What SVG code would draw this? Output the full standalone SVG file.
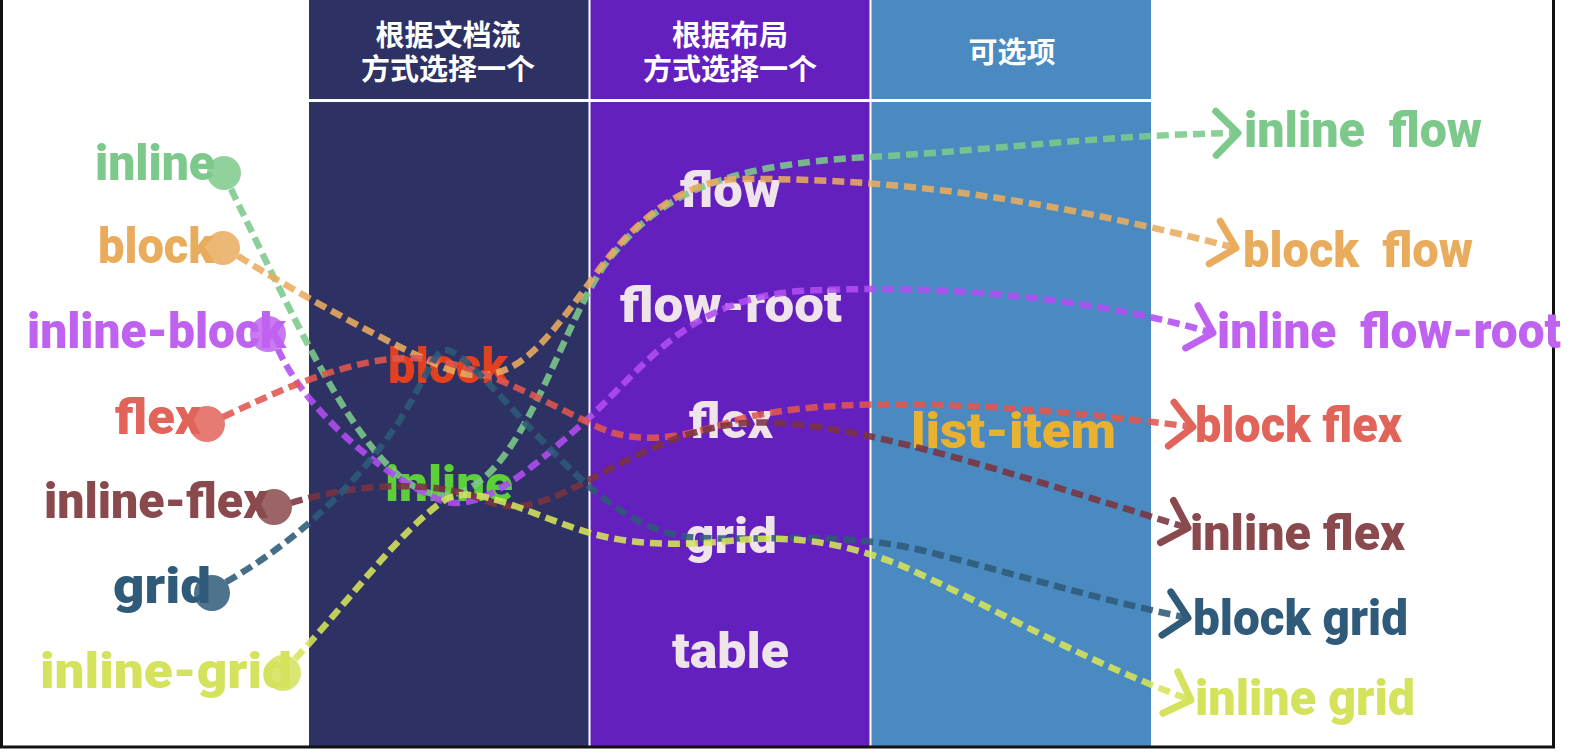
<svg xmlns="http://www.w3.org/2000/svg" width="1572" height="754" viewBox="0 0 1572 754">
<style>
  .hdr { font-family: "Noto Sans CJK SC", "Noto Sans", sans-serif; font-weight: 700; font-size: 29px; fill: #ffffff; text-anchor: middle; }
  .lbl { font-family: Roboto, "Liberation Sans", sans-serif; font-weight: 900; font-size: 50px; }
  .mid { fill: #EEE4EA; }
  .con { fill: none; stroke-width: 6.5; stroke-dasharray: 12 6; stroke-opacity: 0.88; }
  .dot { fill-opacity: 0.85; }
  .c-green { fill: #7CC98B; } .s-green { stroke: #7CC98B; }
  .c-orange { fill: #E9AC5D; } .s-orange { stroke: #E9AC5D; }
  .c-purple { fill: #C062F0; } .s-purple { stroke: #B24CF2; }
  .c-red { fill: #E0645A; } .s-red { stroke: #E0564F; }
  .c-brown { fill: #8A4A4D; } .s-brown { stroke: #7A3340; }
  .c-teal { fill: #2F5A79; } .s-teal { stroke: #2E5A79; }
  .c-yellow { fill: #D4E25C; } .s-yellow { stroke: #D6E45A; }
  .arr { fill: none; stroke-width: 7; stroke-linecap: round; stroke-linejoin: round; }
</style>
<defs>
  <marker id="a-green" markerUnits="userSpaceOnUse" viewBox="-30 -30 36 60" refX="0" refY="0" markerWidth="36" markerHeight="60" orient="auto" overflow="visible"><path class="arr" stroke="#7CC98B" d="M-22,-22 L0,0 L-22,22"/></marker>
  <marker id="a-orange" markerUnits="userSpaceOnUse" viewBox="-30 -30 36 60" refX="0" refY="0" markerWidth="36" markerHeight="60" orient="auto" overflow="visible"><path class="arr" stroke="#E9AC5D" d="M-22,-22 L0,0 L-22,22"/></marker>
  <marker id="a-purple" markerUnits="userSpaceOnUse" viewBox="-30 -30 36 60" refX="0" refY="0" markerWidth="36" markerHeight="60" orient="auto" overflow="visible"><path class="arr" stroke="#C062F0" d="M-22,-22 L0,0 L-22,22"/></marker>
  <marker id="a-red" markerUnits="userSpaceOnUse" viewBox="-30 -30 36 60" refX="0" refY="0" markerWidth="36" markerHeight="60" orient="auto" overflow="visible"><path class="arr" stroke="#E0645A" d="M-22,-22 L0,0 L-22,22"/></marker>
  <marker id="a-brown" markerUnits="userSpaceOnUse" viewBox="-30 -30 36 60" refX="0" refY="0" markerWidth="36" markerHeight="60" orient="auto" overflow="visible"><path class="arr" stroke="#8A4A4D" d="M-22,-22 L0,0 L-22,22"/></marker>
  <marker id="a-teal" markerUnits="userSpaceOnUse" viewBox="-30 -30 36 60" refX="0" refY="0" markerWidth="36" markerHeight="60" orient="auto" overflow="visible"><path class="arr" stroke="#2F5A79" d="M-22,-22 L0,0 L-22,22"/></marker>
  <marker id="a-yellow" markerUnits="userSpaceOnUse" viewBox="-30 -30 36 60" refX="0" refY="0" markerWidth="36" markerHeight="60" orient="auto" overflow="visible"><path class="arr" stroke="#D4E25C" d="M-22,-22 L0,0 L-22,22"/></marker>
</defs>

<rect x="0" y="0" width="1572" height="754" fill="#ffffff"/>

<g id="columns">
  <rect x="309" y="0" width="280" height="747" fill="#2E3163"/>
  <rect x="590" y="0" width="280" height="747" fill="#6420BE"/>
  <rect x="871" y="0" width="280" height="747" fill="#4A8AC1"/>
  <line x1="589.5" y1="0" x2="589.5" y2="747" stroke="#ffffff" stroke-width="2"/>
  <line x1="870.5" y1="0" x2="870.5" y2="747" stroke="#ffffff" stroke-width="2"/>
  <line x1="309" y1="100.5" x2="1151" y2="100.5" stroke="#ffffff" stroke-width="3"/>
</g>

<g id="frame" fill="none" stroke="#111111" stroke-width="3">
  <polyline points="1.5,0 1.5,747 1553.5,747 1553.5,0"/>
</g>

<g id="headers">
  <g id="hdr-flow"><text class="hdr"><tspan x="448" y="46">根据文档流</tspan><tspan x="448" y="80">方式选择一个</tspan></text></g>
  <g id="hdr-layout"><text class="hdr"><tspan x="730" y="46">根据布局</tspan><tspan x="730" y="80">方式选择一个</tspan></text></g>
  <g id="hdr-opt"><text class="hdr" x="1012" y="63">可选项</text></g>
</g>

<g id="left-labels">
  <g id="src-inline"><text class="lbl c-green" x="95" y="180" textLength="120" lengthAdjust="spacingAndGlyphs">inline</text></g>
  <g id="src-block"><text class="lbl c-orange" x="98" y="263" textLength="116" lengthAdjust="spacingAndGlyphs">block</text></g>
  <g id="src-inline-block"><text class="lbl c-purple" x="27" y="348" textLength="259" lengthAdjust="spacingAndGlyphs">inline-block</text></g>
  <g id="src-flex"><text class="lbl c-red" x="115" y="434" textLength="86" lengthAdjust="spacingAndGlyphs">flex</text></g>
  <g id="src-inline-flex"><text class="lbl c-brown" x="44" y="518" textLength="224" lengthAdjust="spacingAndGlyphs">inline-flex</text></g>
  <g id="src-grid"><text class="lbl c-teal" x="113" y="603" textLength="98" lengthAdjust="spacingAndGlyphs">grid</text></g>
  <g id="src-inline-grid"><text class="lbl c-yellow" x="40" y="688" textLength="252" lengthAdjust="spacingAndGlyphs">inline-grid</text></g>
</g>

<g id="outer-nodes">
  <g id="outer-block"><text class="lbl" fill="#E2401F" x="388" y="383" textLength="120" lengthAdjust="spacingAndGlyphs">block</text></g>
  <g id="outer-inline"><text class="lbl" fill="#5DCF38" x="385" y="501" textLength="128" lengthAdjust="spacingAndGlyphs">inline</text></g>
</g>

<g id="inner-nodes">
  <g id="inner-flow"><text class="lbl mid" x="680" y="207" textLength="101" lengthAdjust="spacingAndGlyphs">flow</text></g>
  <g id="inner-flow-root"><text class="lbl mid" x="620" y="322" textLength="222" lengthAdjust="spacingAndGlyphs">flow-root</text></g>
  <g id="inner-flex"><text class="lbl mid" x="689" y="438" textLength="84" lengthAdjust="spacingAndGlyphs">flex</text></g>
  <g id="inner-grid"><text class="lbl mid" x="685" y="553" textLength="92" lengthAdjust="spacingAndGlyphs">grid</text></g>
  <g id="inner-table"><text class="lbl mid" x="672" y="668" textLength="117" lengthAdjust="spacingAndGlyphs">table</text></g>
</g>

<g id="optional-nodes">
  <g id="opt-list-item"><text class="lbl" fill="#E9B130" x="911" y="448" textLength="205" lengthAdjust="spacingAndGlyphs">list-item</text></g>
</g>

<g id="result-nodes">
  <g id="res-inline-flow"><text class="lbl c-green" x="1244" y="147" xml:space="preserve" textLength="238" lengthAdjust="spacingAndGlyphs">inline  flow</text></g>
  <g id="res-block-flow"><text class="lbl c-orange" x="1243" y="267" xml:space="preserve" textLength="230" lengthAdjust="spacingAndGlyphs">block  flow</text></g>
  <g id="res-inline-flow-root"><text class="lbl c-purple" x="1217" y="348" xml:space="preserve" textLength="344" lengthAdjust="spacingAndGlyphs">inline  flow-root</text></g>
  <g id="res-block-flex"><text class="lbl c-red" x="1195" y="442" textLength="207" lengthAdjust="spacingAndGlyphs">block flex</text></g>
  <g id="res-inline-flex"><text class="lbl c-brown" x="1190" y="550" textLength="215" lengthAdjust="spacingAndGlyphs">inline flex</text></g>
  <g id="res-block-grid"><text class="lbl c-teal" x="1193" y="635" textLength="215" lengthAdjust="spacingAndGlyphs">block grid</text></g>
  <g id="res-inline-grid"><text class="lbl c-yellow" x="1195" y="715" textLength="220" lengthAdjust="spacingAndGlyphs">inline grid</text></g>
</g>

<g id="connectors">
  <path id="c-inline" class="con s-green" marker-end="url(#a-green)" d="M231,189 C300,330 370,490 440,495 C520,500 560,320 610,258 C660,195 720,165 870,157 C1000,150 1100,135 1238,133"/>
  <path id="c-block" class="con s-orange" marker-end="url(#a-orange)" d="M238,256 C300,295 400,350 450,370 C510,390 540,350 590,282 C630,225 680,180 740,179 C900,178 1050,200 1236,248"/>
  <path id="c-inline-block" class="con s-purple" marker-end="url(#a-purple)" d="M278,349 C300,400 370,470 440,500 C480,515 530,470 590,417 C650,360 690,300 800,291 C950,283 1100,300 1213,333"/>
  <path id="c-flex" class="con s-red" marker-end="url(#a-red)" d="M223,417 C280,390 350,358 410,358 C470,358 540,400 600,428 C640,445 680,438 730,422 C800,400 950,395 1193,427"/>
  <path id="c-inline-flex" class="con s-brown" marker-end="url(#a-brown)" d="M291,503 C350,485 420,480 470,495 C490,502 500,508 520,506 C560,502 600,470 660,445 C700,428 740,420 780,423 C880,430 1000,470 1188,528"/>
  <path id="c-grid" class="con s-teal" marker-end="url(#a-teal)" d="M226,582 C300,540 360,480 400,420 C425,380 435,350 445,350 C460,350 490,385 530,428 C580,480 630,535 700,538 C780,541 850,530 940,555 C1030,578 1100,600 1188,618"/>
  <path id="c-inline-grid" class="con s-yellow" marker-end="url(#a-yellow)" d="M295,659 C350,600 400,530 445,500 C475,482 530,515 590,533 C640,547 690,545 740,540 C800,535 850,545 900,565 C980,600 1080,660 1191,700"/>
</g>

<g id="source-dots">
  <circle class="dot c-green" cx="224" cy="173" r="17"/>
  <circle class="dot c-orange" cx="223" cy="248" r="17"/>
  <circle class="dot c-purple" cx="268" cy="334" r="18"/>
  <circle class="dot c-red" cx="207" cy="424" r="18"/>
  <circle class="dot c-brown" cx="274" cy="507" r="18"/>
  <circle class="dot c-teal" cx="212" cy="593" r="18"/>
  <circle class="dot c-yellow" cx="283" cy="673" r="18"/>
</g>
</svg>
